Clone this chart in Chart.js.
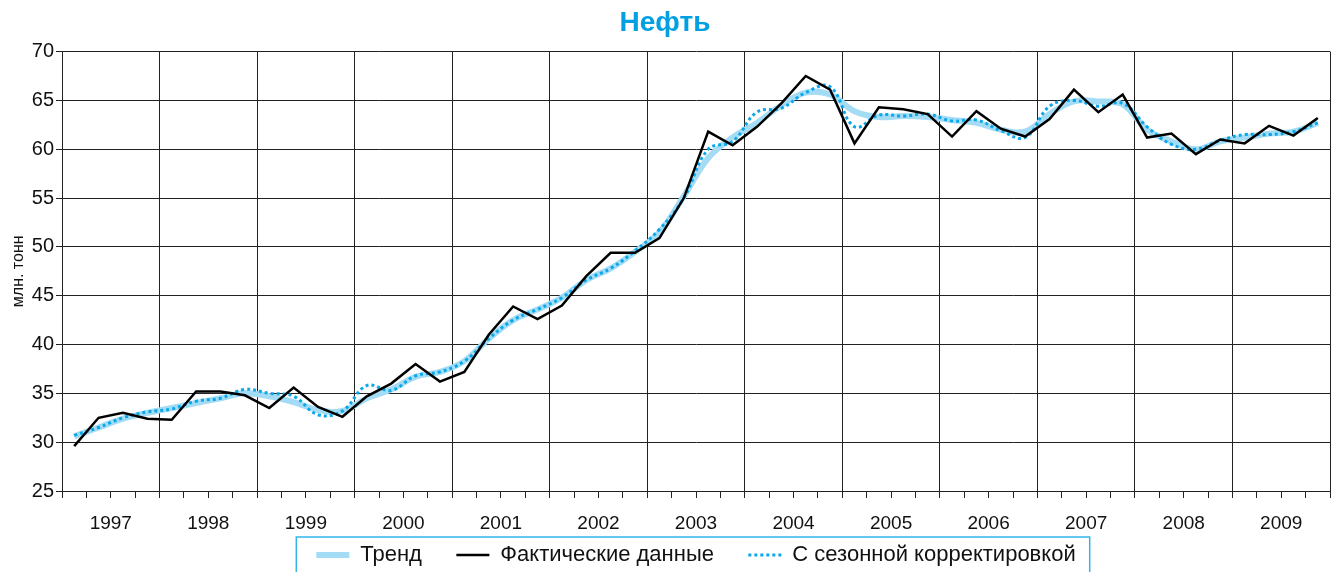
<!DOCTYPE html>
<html lang="ru">
<head>
<meta charset="utf-8">
<title>Нефть</title>
<script src="https://cdn.jsdelivr.net/npm/chart.js@4.4.1/dist/chart.umd.min.js"></script>
<style>
  html, body { margin: 0; padding: 0; background: #fff; }
  #wrap { width: 1332px; height: 572px; position: relative; }
</style>
</head>
<body>
<div id="wrap"><canvas id="oilChart"></canvas></div>
<script>
// годы (по 4 квартала в каждом)
const years = ["1997", "1998", "1999", "2000", "2001", "2002", "2003", "2004", "2005", "2006", "2007", "2008", "2009"];

// млн. тонн, поквартально
const trend = [
  30.6, 31.5, 32.4, 33.0,  33.5, 34.0, 34.5, 35.0,  34.7, 34.1, 33.3, 33.2,
  34.5, 35.4, 36.7, 37.2,  38.3, 40.6, 42.5, 43.6,  44.8, 46.6, 47.8, 49.5,
  51.5, 55.2, 59.1, 61.2,  62.7, 64.5, 65.8, 65.6,  63.9, 63.3, 63.4, 63.3,
  63.0, 62.7, 62.0, 61.8,  63.6, 64.9, 64.9, 64.6,  62.0, 60.8, 60.0, 60.8,
  61.2, 61.6, 61.8, 62.7
];
const actual = [
  29.6, 32.5, 33.0, 32.4,  32.3, 35.2, 35.2, 34.8,  33.5, 35.6, 33.6, 32.6,
  34.7, 36.0, 38.0, 36.2,  37.2, 41.0, 43.9, 42.6,  44.0, 47.0, 49.4, 49.4,
  50.9, 55.0, 61.8, 60.4,  62.3, 64.7, 67.5, 66.1,  60.6, 64.3, 64.1, 63.6,
  61.3, 63.9, 62.1, 61.3,  63.1, 66.1, 63.8, 65.6,  61.2, 61.6, 59.5, 61.0,
  60.6, 62.4, 61.4, 63.2
];
const adjusted = [
  30.7, 31.5, 32.5, 33.1,  33.4, 34.2, 34.5, 35.4,  35.0, 34.7, 32.8, 33.2,
  35.8, 35.3, 36.8, 37.2,  38.3, 40.6, 42.5, 43.6,  44.8, 46.6, 47.8, 49.6,
  51.8, 55.0, 60.0, 60.8,  63.8, 64.2, 65.8, 66.4,  62.3, 63.5, 63.4, 63.6,
  62.9, 63.0, 61.9, 61.2,  64.4, 65.0, 64.4, 64.7,  62.3, 60.5, 60.0, 60.9,
  61.5, 61.5, 61.8, 62.7
];

const yMin = 25, yMax = 70, yStep = 5;
const quarters = years.length * 4;

// точка в середине квартала
const toPoints = arr => arr.map((v, i) => ({ x: i + 0.5, y: v }));

// рамка вокруг легенды
const legendFrame = {
  id: "legendFrame",
  afterDraw(chart) {
    const lg = chart.legend;
    if (!lg || !lg.legendHitBoxes || !lg.legendHitBoxes.length) return;
    const boxes = lg.legendHitBoxes;
    const last = boxes[boxes.length - 1];
    const left = boxes[0].left - 20;
    const right = last.left + last.width + 14;
    const ctx = chart.ctx;
    ctx.save();
    ctx.strokeStyle = "#33b5ea";
    ctx.lineWidth = 1.5;
    ctx.strokeRect(left, lg.top + 1, right - left, chart.height);
    ctx.restore();
  }
};

const legendFont = { family: "'Liberation Sans', Arial, sans-serif", size: 22 };

const ctx = document.getElementById("oilChart").getContext("2d");
new Chart(ctx, {
  type: "line",
  data: {
    datasets: [
      {
        label: "Тренд",
        data: toPoints(trend),
        borderColor: "#a5dcf5",
        backgroundColor: "#a5dcf5",
        borderWidth: 6,
        tension: 0.4,
        pointRadius: 0,
        order: 3
      },
      {
        label: "Фактические данные",
        data: toPoints(actual),
        borderColor: "#000000",
        backgroundColor: "#000000",
        borderWidth: 2.5,
        tension: 0,
        pointRadius: 0,
        order: 1
      },
      {
        label: "С сезонной корректировкой",
        data: toPoints(adjusted),
        borderColor: "#0aa8ea",
        backgroundColor: "#0aa8ea",
        borderWidth: 3,
        borderDash: [3, 3],
        tension: 0.4,
        pointRadius: 0,
        order: 2
      }
    ]
  },
  options: {
    responsive: true,
    maintainAspectRatio: false,
    animation: false,
    layout: { padding: { left: 0, right: 2, top: 0, bottom: 0 } },
    plugins: {
      title: {
        display: true,
        text: "Нефть",
        color: "#00a0e3",
        font: { family: "'Liberation Sans', Arial, sans-serif", size: 28, weight: "bold" },
        padding: { top: 6, bottom: 12 }
      },
      legend: {
        position: "bottom",
        fullSize: false,
        maxHeight: 36,
        labels: {
          // образец линии берём из самого набора; пробелы разносят пункты
          generateLabels: chart => Chart.defaults.plugins.legend.labels.generateLabels(chart)
            .map(item => {
              const ds = chart.data.datasets[item.datasetIndex];
              item.lineDash = ds.borderDash || [];
              item.lineWidth = ds.borderWidth;
              item.strokeStyle = ds.borderColor;
              if (item.datasetIndex < 2) item.text = item.text + "\u2003\u2009";
              return item;
            }),
          sort: (a, b) => a.datasetIndex - b.datasetIndex,
          usePointStyle: true,
          pointStyle: "line",
          pointStyleWidth: 33,
          boxHeight: 12,
          padding: 8,
          color: "#111",
          font: legendFont
        }
      },
      tooltip: { enabled: false }
    },
    scales: {
      x: {
        type: "linear",
        min: 0,
        max: quarters,
        ticks: {
          stepSize: 1,
          autoSkip: false,
          maxRotation: 0,
          padding: 14,
          color: "#111",
          font: { family: "'Liberation Sans', Arial, sans-serif", size: 19 },
          callback: v => (v % 4 === 2 ? years[(v - 2) / 4] : "")
        },
        grid: {
          color: c => (c.tick && c.tick.value % 4 === 0 ? "#222" : "rgba(0,0,0,0)"),
          tickColor: "#222",
          tickLength: 7,
          lineWidth: 1
        },
        border: { color: "#222" },
        afterFit: s => {
          s.height = 45;
          s.paddingLeft = 0;
          s.paddingRight = 0;
        }
      },
      y: {
        min: yMin,
        max: yMax,
        ticks: {
          stepSize: yStep,
          padding: 2,
          color: "#111",
          font: { family: "'Liberation Sans', Arial, sans-serif", size: 20 }
        },
        grid: { color: "#222", tickColor: "#222", tickLength: 6, lineWidth: 1 },
        border: { color: "#222" },
        title: {
          display: true,
          text: "млн. тонн",
          color: "#111",
          padding: { top: 9, bottom: 0 },
          font: { family: "'Liberation Sans', Arial, sans-serif", size: 16 }
        },
        afterFit: s => { s.width = 62; }
      }
    }
  },
  plugins: [legendFrame]
});
</script>
</body>
</html>
